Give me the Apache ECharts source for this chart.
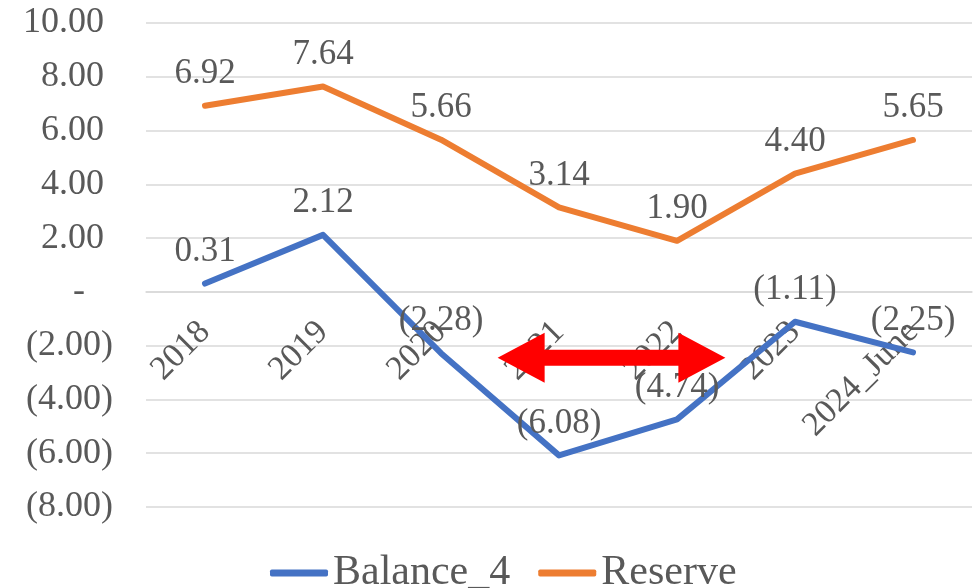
<!DOCTYPE html>
<html>
<head>
<meta charset="utf-8">
<script src="https://cdn.jsdelivr.net/npm/echarts@6/dist/echarts.min.js"></script>
<style>html,body{margin:0;padding:0;background:#fff}#c{width:975px;height:588px}</style>
</head>
<body>
<div id="c"></div>
<script>
var categories = ['2018', '2019', '2020', '2021', '2022', '2023', '2024_June'];
var balance4 = [0.31, 2.12, -2.28, -6.08, -4.74, -1.11, -2.25];
var reserve = [6.92, 7.64, 5.66, 3.14, 1.90, 4.40, 5.65];
var yTicks = [-8, -6, -4, -2, 0, 2, 4, 6, 8, 10];
// double arrow annotation, in data units (category index, value)
var arrowFrom = 2.48, arrowTo = 4.41, arrowY = -2.45;

var FONT = '"Liberation Serif", "Times New Roman", serif';
var TXT = '#595959';

function acct(v) {
  if (Math.abs(v) < 1e-9) return '{z|-}';
  if (v < 0) return '(' + Math.abs(v).toFixed(2) + ')';
  return '{p|' + v.toFixed(2) + '}';
}
function acctPlain(v) {
  if (v < 0) return '(' + Math.abs(v).toFixed(2) + ')';
  return v.toFixed(2);
}

var chart = echarts.init(document.getElementById('c'), null, {renderer: 'canvas'});
var labelCommon = {
  show: true, position: 'top', distance: 14,
  fontFamily: FONT, fontSize: 35, color: TXT,
  formatter: function (p) { return acctPlain(p.value); }
};
chart.setOption({
  animation: false,
  backgroundColor: '#fff',
  textStyle: {fontFamily: FONT},
  grid: {left: 146, right: 3, top: 23, bottom: 81, containLabel: false, outerBoundsMode: 'none'},
  legend: {
    top: 547, left: 265,
    itemWidth: 58, itemHeight: 7, itemGap: 28,
    textStyle: {fontFamily: FONT, fontSize: 42, color: TXT},
    data: [{name: 'Balance_4', icon: 'roundRect'}, {name: 'Reserve', icon: 'roundRect'}]
  },
  xAxis: {
    type: 'category', data: categories, boundaryGap: true,
    axisLine: {show: true, onZero: true, lineStyle: {color: '#d9d9d9', width: 1.5}},
    axisTick: {show: false},
    axisLabel: {
      rotate: 45, margin: 35, verticalAlign: 'middle',
      fontFamily: FONT, fontSize: 34, color: TXT, interval: 0
    },
    splitLine: {show: false}
  },
  yAxis: {
    type: 'value', min: yTicks[0], max: yTicks[yTicks.length - 1], interval: 2,
    axisLine: {show: false}, axisTick: {show: false},
    splitLine: {lineStyle: {color: '#d9d9d9', width: 1.5}},
    axisLabel: {
      margin: 33, fontFamily: FONT, fontSize: 36, color: TXT,
      formatter: acct,
      rich: {
        p: {fontFamily: FONT, fontSize: 36, color: TXT, padding: [0, 9, 0, 0]},
        z: {fontFamily: FONT, fontSize: 36, color: TXT, padding: [0, 28, 0, 0]}
      }
    }
  },
  series: [
    {
      name: 'Balance_4', type: 'line', data: balance4,
      symbol: 'circle', symbolSize: 1, showSymbol: true,
      lineStyle: {color: '#4472C4', width: 6, cap: 'round', join: 'round'},
      itemStyle: {color: '#4472C4'},
      label: labelCommon, z: 3
    },
    {
      name: 'Reserve', type: 'line', data: reserve,
      symbol: 'circle', symbolSize: 1, showSymbol: true,
      lineStyle: {color: '#ED7D31', width: 6, cap: 'round', join: 'round'},
      itemStyle: {color: '#ED7D31'},
      label: labelCommon, z: 3
    }
  ]
});

// place the category axis on the zero line
var zeroY = chart.convertToPixel({yAxisIndex: 0}, 0);
var bottomY = chart.convertToPixel({yAxisIndex: 0}, yTicks[0]);
chart.setOption({xAxis: {offset: -(bottomY - zeroY)}});

function px(idx, val) {
  var i0 = Math.floor(idx), f = idx - i0;
  var a = chart.convertToPixel({xAxisIndex: 0, yAxisIndex: 0}, [i0, val]);
  var b = chart.convertToPixel({xAxisIndex: 0, yAxisIndex: 0}, [i0 + 1, val]);
  return [a[0] + (b[0] - a[0]) * f, a[1]];
}
var L = px(arrowFrom, arrowY), R = px(arrowTo, arrowY);
var cy = L[1], head = 47, hh = 25, sh = 8;
chart.setOption({
  graphic: [{
    type: 'polygon', z: 100,
    shape: {points: [
      [L[0], cy], [L[0] + head, cy - hh], [L[0] + head, cy - sh],
      [R[0] - head, cy - sh], [R[0] - head, cy - hh], [R[0], cy],
      [R[0] - head, cy + hh], [R[0] - head, cy + sh], [L[0] + head, cy + sh],
      [L[0] + head, cy + hh]
    ]},
    style: {fill: '#FF0000'}
  }]
});
</script>
</body>
</html>
